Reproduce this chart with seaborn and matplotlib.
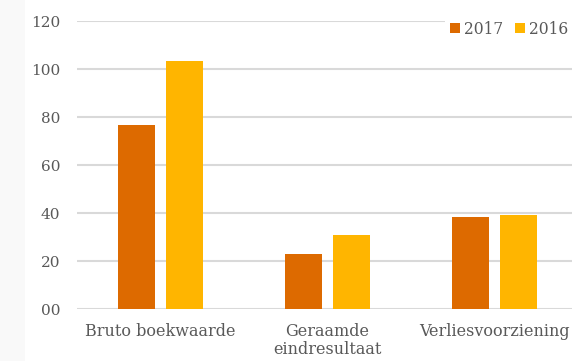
import matplotlib
matplotlib.use("Agg")
import matplotlib.pyplot as plt
import matplotlib.patches as mpatches
from matplotlib.ticker import FixedLocator, FixedFormatter
import seaborn as sns
import pandas as pd

categories = ["Bruto boekwaarde", "Geraamde\neindresultaat", "Verliesvoorziening"]
series_names = ["2017", "2016"]
values_2017 = [76.8, 23.0, 38.6]
values_2016 = [103.2, 31.0, 39.3]
y_ticks = [0, 20, 40, 60, 80, 100, 120]
y_tick_labels = ["00", "20", "40", "60", "80", "100", "120"]
colors = ["#DD6A00", "#FFB500"]

df = pd.DataFrame({
    "categorie": categories * 2,
    "jaar": [series_names[0]] * 3 + [series_names[1]] * 3,
    "waarde": values_2017 + values_2016,
})

sns.set_theme(style="white")
plt.rcParams["font.family"] = ["DejaVu Serif"]
text_color = "#595959"

fig = plt.figure(figsize=(5.72, 3.61), dpi=100)
fig.patches.append(mpatches.Rectangle((0, 0), 25 / 572, 1, transform=fig.transFigure,
                                      facecolor="#F9F9F9", edgecolor="none", zorder=-10))
# axes: x from 77 to 578 px, y from 21 to 309.3 px (top origin)
ax = fig.add_axes([77 / 572, (361 - 309.3) / 361, 501 / 572, (309.3 - 21) / 361])

sns.barplot(data=df, x="categorie", y="waarde", hue="jaar", order=categories,
            hue_order=series_names, palette=colors, width=0.575, gap=0.217,
            saturation=1, ax=ax, edgecolor="none", zorder=3)

ax.set_xlim(-0.5, 2.5)
ax.set_ylim(0, 120)
ax.yaxis.set_major_locator(FixedLocator(y_ticks))
ax.yaxis.set_major_formatter(FixedFormatter(y_tick_labels))
ax.grid(axis="y", color="#D9D9D9", linewidth=1.5, zorder=0)
ax.set_axisbelow(True)
for s in ax.spines.values():
    s.set_visible(False)
ax.tick_params(axis="both", length=0, colors=text_color)
ax.tick_params(axis="y", labelsize=11, pad=12)
ax.tick_params(axis="x", labelsize=11.5, pad=10)
for lbl in ax.get_xticklabels():
    lbl.set_linespacing(1.05)
ax.set_xlabel("")
ax.set_ylabel("")

leg = ax.legend(loc="center right", bbox_to_anchor=(496 / 501, 1 - 8 / 288.3), ncol=2, frameon=True,
                fontsize=11.2, handlelength=0.65, handleheight=0.65, handletextpad=0.25,
                columnspacing=0.8, borderpad=0.3, borderaxespad=0, labelcolor=text_color)
leg.get_frame().set_facecolor("white")
leg.get_frame().set_edgecolor("none")
leg.get_frame().set_alpha(1)
leg.set_zorder(5)

fig.savefig("out.png", dpi=100)
